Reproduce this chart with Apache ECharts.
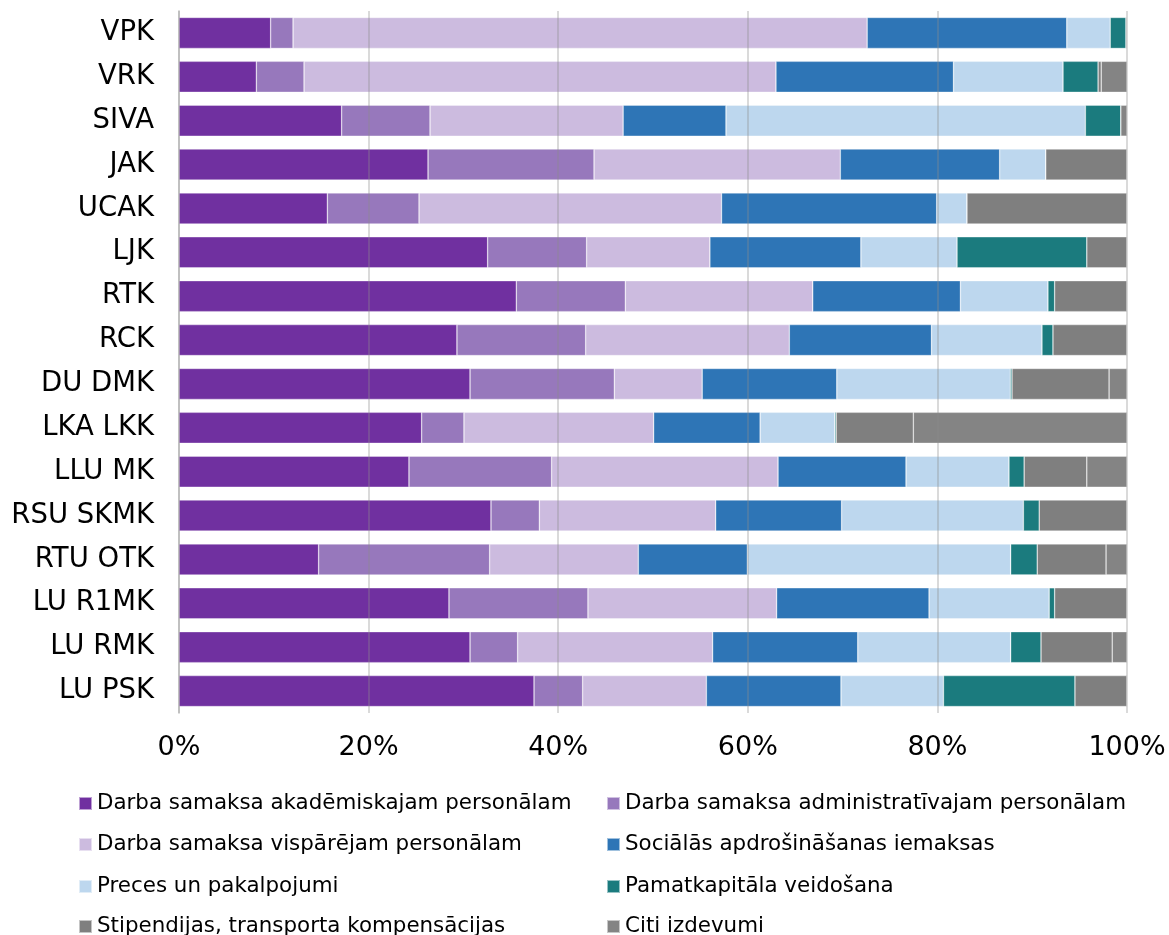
<!DOCTYPE html>
<html>
<head>
<meta charset="utf-8">
<script src="https://cdn.jsdelivr.net/npm/echarts@6/dist/echarts.min.js"></script>
<style>
html,body{margin:0;padding:0;background:#fff;}
#chart{width:1169px;height:935px;}
</style>
</head>
<body>
<div id="chart"></div>
<script>
const categories = ['VPK','VRK','SIVA','JAK','UCAK','LJK','RTK','RCK','DU DMK','LKA LKK','LLU MK','RSU SKMK','RTU OTK','LU R1MK','LU RMK','LU PSK'];
const seriesNames = [
  'Darba samaksa akadēmiskajam personālam',
  'Darba samaksa administratīvajam personālam',
  'Darba samaksa vispārējam personālam',
  'Sociālās apdrošināšanas iemaksas',
  'Preces un pakalpojumi',
  'Pamatkapitāla veidošana',
  'Stipendijas, transporta kompensācijas',
  'Citi izdevumi'
];
const acad    = [9.67, 8.16, 17.16, 26.27, 15.65, 32.56, 35.58, 29.32, 30.70, 25.60, 24.26, 32.91, 14.73, 28.48, 30.70, 37.45];
const admin   = [2.36, 5.03, 9.32, 17.51, 9.67, 10.44, 11.50, 13.58, 15.22, 4.46, 15.05, 5.10, 18.04, 14.66, 5.02, 5.13];
const general = [60.56, 49.78, 20.37, 25.98, 31.91, 13.00, 19.77, 21.48, 9.27, 20.01, 23.88, 18.60, 15.68, 19.90, 20.57, 13.05];
const social  = [21.06, 18.73, 10.85, 16.81, 22.70, 15.93, 15.58, 15.00, 14.20, 11.23, 13.50, 13.29, 11.50, 16.08, 15.31, 14.20];
const goods   = [4.58, 11.55, 37.91, 4.86, 3.19, 10.14, 9.23, 11.65, 18.30, 7.88, 10.86, 19.17, 27.78, 12.67, 16.13, 10.81];
const capital = [1.67, 3.70, 3.74, 0, 0, 13.69, 0.71, 1.16, 0.18, 0.14, 1.60, 1.67, 2.80, 0.58, 3.20, 13.87];
const stip    = [0, 0.33, 0, 8.57, 16.88, 4.24, 7.63, 7.81, 10.24, 8.14, 6.61, 9.26, 7.26, 7.63, 7.51, 5.49];
const other   = [0.10, 2.72, 0.65, 0, 0, 0, 0, 0, 1.89, 22.54, 4.24, 0, 2.21, 0, 1.56, 0];
const xTicks = [0, 20, 40, 60, 80, 100];

const values = [acad, admin, general, social, goods, capital, stip, other];
const colors = ['#7030A0','#9778BC','#CCBBDF','#2E75B6','#BDD7EE','#1B7B7E','#7F7F7F','#848484'];

const chart = echarts.init(document.getElementById('chart'));
const font = 'DejaVu Sans, Verdana, sans-serif';
const series = values.map((arr, i) => ({
  name: seriesNames[i],
  type: 'bar',
  stack: 'total',
  barWidth: 31,
  data: arr,
  itemStyle: { color: colors[i], borderColor: 'rgba(255,255,255,0.55)', borderWidth: 0.6 },
  emphasis: { disabled: true }
}));
// legend: two columns, four rows
const colLeft = [78, 606];
const rowTop = [793, 834, 876, 916];
const legends = seriesNames.map((name, i) => ({
  orient: 'horizontal',
  left: colLeft[i % 2],
  top: rowTop[Math.floor(i / 2)],
  padding: 0,
  itemWidth: 13, itemHeight: 13,
  icon: 'rect',
  data: [name],
  textStyle: { fontFamily: font, fontSize: 21.4, color: '#000', padding: [0, 0, 0, 0] }
}));
chart.setOption({
  animation: false,
  color: colors,
  legend: legends,
  grid: { left: 179, right: 42, top: 11, bottom: 222, containLabel: false },
  xAxis: {
    type: 'value', min: xTicks[0], max: xTicks[xTicks.length-1], interval: 20,
    z: 5,
    axisLine: { show: false },
    axisTick: { show: false },
    splitLine: { show: true, lineStyle: { color: 'rgba(140,140,140,0.32)', width: 2 } },
    axisLabel: { formatter: '{value}%', fontFamily: font, fontSize: 27, color: '#000', margin: 21 }
  },
  yAxis: {
    type: 'category', data: categories, inverse: true,
    axisLine: { show: true, lineStyle: { color: '#d9d9d9', width: 2 } },
    axisTick: { show: false },
    axisLabel: { fontFamily: font, fontSize: 27.5, color: '#000', margin: 25 }
  },
  series: series
});
</script>
</body>
</html>
